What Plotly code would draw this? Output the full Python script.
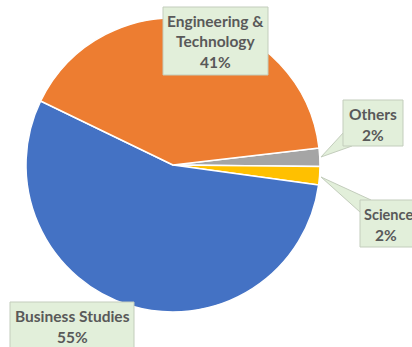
import plotly.graph_objects as go

# Enrolment share by field of study (percent)
categories = ["Others", "Science", "Business Studies", "Engineering & Technology"]
shares = [2, 2, 55, 41]
colors = ["#A5A5A5", "#FFC000", "#4472C4", "#ED7D31"]

# Callout label lines (name lines, the value line is added from shares)
label_lines = {
    "Others": ["Others"],
    "Science": ["Science"],
    "Business Studies": ["Business Studies"],
    "Engineering & Technology": ["Engineering &", "Technology"],
}

W, H = 412, 347


def px(x):
    return x / W


def py(y):
    return 1 - y / H


fig = go.Figure(
    go.Pie(
        labels=categories,
        values=shares,
        sort=False,
        direction="clockwise",
        rotation=83.4,
        marker=dict(colors=colors, line=dict(color="white", width=1.5)),
        textinfo="none",
        hoverinfo="label+percent",
        domain=dict(x=[px(26), px(320)], y=[py(312), py(18)]),
        showlegend=False,
    )
)

BOX_FILL = "#E2EFDA"
BOX_LINE = "#C3CDBC"
TEXT_COLOR = "#595959"

# Callout boxes: (left, top, right, bottom) in pixels
boxes = {
    "Engineering & Technology": (163, 7, 268, 75),
    "Others": (343, 100, 403, 146),
    "Science": (360, 200, 420, 247),
    "Business Studies": (10, 302, 134, 352),
}

# Callout pointers (triangles from the box to the slice edge)
pointers = {
    "Others": [(321, 157), (344, 132), (352, 146)],
    "Science": [(321, 177), (360, 212), (371, 200)],
}

shapes = []
for cat, pts in pointers.items():
    path = "M " + " L ".join(f"{px(x)},{py(y)}" for x, y in pts) + " Z"
    shapes.append(dict(type="path", xref="paper", yref="paper", path=path,
                       fillcolor=BOX_FILL, line=dict(color=BOX_LINE, width=1),
                       layer="above"))
for cat, (l, t, r, b) in boxes.items():
    shapes.append(dict(type="rect", xref="paper", yref="paper",
                       x0=px(l), x1=px(r), y0=py(b), y1=py(t),
                       fillcolor=BOX_FILL, line=dict(color=BOX_LINE, width=1),
                       layer="above"))

annotations = []
LINE_H = 20.5
for cat, val in zip(categories, shares):
    l, t, r, b = boxes[cat]
    lines = label_lines[cat] + [f"{val}%"]
    cx = (l + r) / 2
    xanchor = "center"
    size = 15.5
    if cat == "Science":
        # the box runs off the right edge, so the name is left-aligned and a
        # touch smaller to stay inside the page
        cx = l + 2
        xanchor = "left"
        size = 14.5
    y0 = t + 14
    for i, line in enumerate(lines):
        x_line = cx
        anchor = xanchor
        line_size = size
        if cat == "Science" and i == len(lines) - 1:
            x_line = l + 26
            anchor = "center"
            line_size = 15.5
        annotations.append(dict(
            x=px(x_line), y=py(y0 + i * LINE_H), xref="paper", yref="paper",
            text=f"<b>{line}</b>", showarrow=False, xanchor=anchor, yanchor="middle",
            font=dict(family="Lato", size=line_size, color=TEXT_COLOR),
        ))

fig.update_layout(
    width=W, height=H,
    margin=dict(l=0, r=0, t=0, b=0),
    paper_bgcolor="white",
    plot_bgcolor="white",
    shapes=shapes,
    annotations=annotations,
)

fig.write_html("out.html")
